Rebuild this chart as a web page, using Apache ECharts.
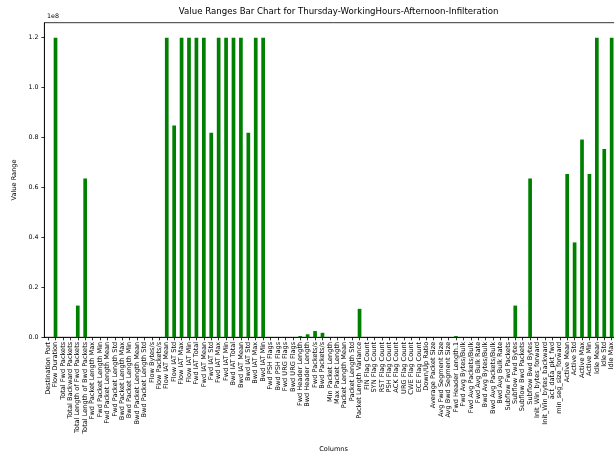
<!DOCTYPE html>
<html>
<head>
<meta charset="utf-8">
<script src="https://cdn.jsdelivr.net/npm/echarts@6/dist/echarts.min.js"></script>
<style>
html,body{margin:0;padding:0;overflow:hidden;background:#fff;}
#chart{width:640px;height:455px;}
</style>
</head>
<body>
<div id="chart"></div>
<script>
// Column names (x categories)
const categories = [
  "Destination Port","Flow Duration","Total Fwd Packets","Total Backward Packets",
  "Total Length of Fwd Packets","Total Length of Bwd Packets","Fwd Packet Length Max",
  "Fwd Packet Length Min","Fwd Packet Length Mean","Fwd Packet Length Std",
  "Bwd Packet Length Max","Bwd Packet Length Min","Bwd Packet Length Mean",
  "Bwd Packet Length Std","Flow Bytes/s","Flow Packets/s","Flow IAT Mean","Flow IAT Std",
  "Flow IAT Max","Flow IAT Min","Fwd IAT Total","Fwd IAT Mean","Fwd IAT Std","Fwd IAT Max",
  "Fwd IAT Min","Bwd IAT Total","Bwd IAT Mean","Bwd IAT Std","Bwd IAT Max","Bwd IAT Min",
  "Fwd PSH Flags","Bwd PSH Flags","Fwd URG Flags","Bwd URG Flags","Fwd Header Length",
  "Bwd Header Length","Fwd Packets/s","Bwd Packets/s","Min Packet Length","Max Packet Length",
  "Packet Length Mean","Packet Length Std","Packet Length Variance","FIN Flag Count",
  "SYN Flag Count","RST Flag Count","PSH Flag Count","ACK Flag Count","URG Flag Count",
  "CWE Flag Count","ECE Flag Count","Down/Up Ratio","Average Packet Size",
  "Avg Fwd Segment Size","Avg Bwd Segment Size","Fwd Header Length.1","Fwd Avg Bytes/Bulk",
  "Fwd Avg Packets/Bulk","Fwd Avg Bulk Rate","Bwd Avg Bytes/Bulk","Bwd Avg Packets/Bulk",
  "Bwd Avg Bulk Rate","Subflow Fwd Packets","Subflow Fwd Bytes","Subflow Bwd Packets",
  "Subflow Bwd Bytes","Init_Win_bytes_forward","Init_Win_bytes_backward","act_data_pkt_fwd",
  "min_seg_size_forward","Active Mean","Active Std","Active Max","Active Min","Idle Mean",
  "Idle Std","Idle Max","Idle Min"
];

// Value range per column
const valueRanges = [
  65535, 120000000, 20000, 30000,
  12700000, 63600000, 24000,
  1500, 5900,
  8200, 13000, 1500, 6500,
  8400, null, null, 120000000, 84800000,
  120000000, 120000000, 120000000, 120000000, 81900000, 120000000,
  120000000, 120000000, 120000000, 81900000, 120000000, 120000000,
  1, 0, 1, 0, 500000,
  1200000, 2500000, 1800000, 1500, 24000,
  3400, 4700, 11400000, 1,
  1, 1, 1, 1, 1,
  1, 1, 7, 3900,
  5900, 6500, 500000, 0,
  0, 0, 0, 0,
  0, 20000, 12700000, 30000,
  63600000, 65536, 65536, 20000,
  60, 65400000, 38000000, 79200000, 65400000, 120000000,
  75400000, 120000000, 120000000
];

// Y tick labels (in units of 1e8)
const yTickValues = [0, 0.2e8, 0.4e8, 0.6e8, 0.8e8, 1.0e8, 1.2e8];
const yTickLabels = ["0.0", "0.2", "0.4", "0.6", "0.8", "1.0", "1.2"];

const chart = echarts.init(document.getElementById('chart'), null, {renderer: 'canvas'});
const FONT = 'DejaVu Sans';
const gridLeft = 44.4, gridTop = 22.7, gridW = 578.4, gridH = 314.6;

chart.setOption({
  animation: false,
  backgroundColor: '#fff',
  title: {
    text: 'Value Ranges Bar Chart for Thursday-WorkingHours-Afternoon-Infilteration',
    left: gridLeft + gridW / 2,
    textAlign: 'center',
    top: 2,
    textStyle: {fontFamily: FONT, fontSize: 8.6, fontWeight: 'normal', color: '#000'}
  },
  graphic: [{
    type: 'text', left: 47, top: 13,
    style: {text: '1e8', fontFamily: FONT, fontSize: 6.3, fill: '#000'}
  }],
  grid: {
    left: gridLeft, top: gridTop, width: gridW, height: gridH,
    outerBoundsMode: 'none',
    containLabel: false,
    show: true, borderColor: '#000', borderWidth: 0.8, backgroundColor: 'transparent'
  },
  xAxis: {
    type: 'category',
    data: categories,
    boundaryGap: true,
    name: 'Columns',
    nameLocation: 'middle',
    nameGap: 108,
    nameTextStyle: {fontFamily: FONT, fontSize: 6.6, color: '#000'},
    axisLine: {show: true, lineStyle: {color: '#000', width: 0.8}},
    axisTick: {show: true, alignWithLabel: true, interval: 0, length: 3, lineStyle: {color: '#000', width: 0.8}},
    axisLabel: {
      interval: 0, rotate: 90, margin: 4.5,
      fontFamily: FONT, fontSize: 6.6, color: '#000'
    },
    splitLine: {show: false}
  },
  yAxis: {
    type: 'value',
    min: 0,
    max: 1.26e8,
    interval: 0.2e8,
    name: 'Value Range',
    nameLocation: 'middle',
    nameRotate: 90,
    nameGap: 24,
    nameTextStyle: {fontFamily: FONT, fontSize: 6.6, color: '#000'},
    axisLine: {show: true, lineStyle: {color: '#000', width: 0.8}},
    axisTick: {show: true, length: 3, lineStyle: {color: '#000', width: 0.8}},
    axisLabel: {
      fontFamily: FONT, fontSize: 6.3, color: '#000', margin: 6,
      showMaxLabel: false,
      formatter: function (v) {
        const i = yTickValues.findIndex(t => Math.abs(t - v) < 1);
        return i >= 0 ? yTickLabels[i] : '';
      }
    },
    splitLine: {show: false}
  },
  series: [{
    type: 'bar',
    data: valueRanges,
    barWidth: '50%',
    itemStyle: {color: '#008000'}
  }]
});
</script>
</body>
</html>
